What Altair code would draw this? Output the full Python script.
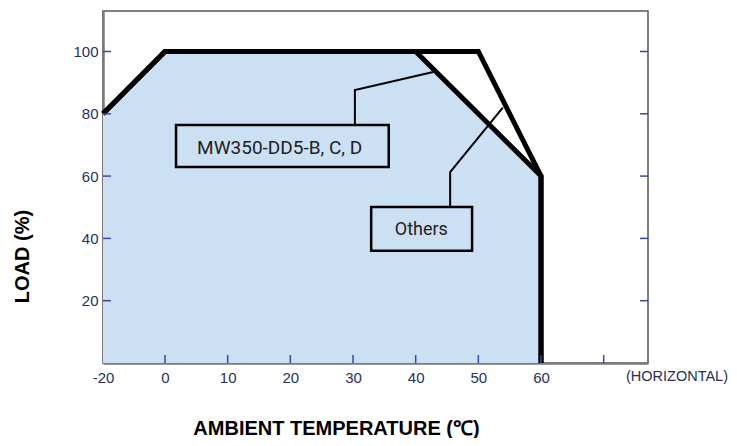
import altair as alt
import pandas as pd

# Derating curves (ambient temperature in degC, load in %)
mw_temp = [-20, 0, 40, 60, 60]
mw_load = [80, 100, 100, 60, 0]
oth_temp = [-20, 0, 50, 60, 60]
oth_load = [80, 100, 100, 60, 0]

# Axis ticks
x_tick_values = [-20, 0, 10, 20, 30, 40, 50, 60, 70]
x_inner_ticks = [0, 10, 20, 30, 40, 50, 60, 70]
y_tick_values = [20, 40, 60, 80, 100]

# Callout annotations (data units)
callout_names = ["MW350-DD5-B, C, D", "Others"]
box_x1 = [1.76, 32.9]
box_x2 = [35.7, 49.0]
box_y1 = [62.9, 36.0]
box_y2 = [76.4, 50.1]
label_x = [18.3, 40.9]
label_y = [69.0, 42.6]
leader_a_temp = [30.3, 30.3, 42.8]
leader_a_load = [76.4, 87.6, 93.4]
leader_b_temp = [45.5, 45.5, 53.9]
leader_b_load = [50.1, 61.3, 82.0]

W, H = 545, 352
TICK_COLOR = "#3a48a8"
LABEL_COLOR = "#27305a"

curves = pd.DataFrame({
    "temp": mw_temp + oth_temp,
    "load": mw_load + oth_load,
    "series": ["MW350"] * len(mw_temp) + ["Others"] * len(oth_temp),
    "idx": list(range(len(mw_temp))) + list(range(len(oth_temp))),
})
area_df = pd.DataFrame({"temp": mw_temp[:4], "load": mw_load[:4]})
leaders = pd.DataFrame({
    "temp": leader_a_temp + leader_b_temp,
    "load": leader_a_load + leader_b_load,
    "grp": ["a"] * 3 + ["b"] * 3,
    "idx": list(range(3)) * 2,
})
boxes = pd.DataFrame({"x1": box_x1, "x2": box_x2, "y1": box_y1, "y2": box_y2,
                      "lx": label_x, "ly": label_y, "name": callout_names})

xscale = alt.Scale(domain=[-20, 0, 77.07], range=[0, 62, W], nice=False, zero=False)
yscale = alt.Scale(domain=[0, 113], nice=False, zero=True)

TITLE_FONT = "Liberation Sans"

xaxis = alt.Axis(
    values=x_tick_values,
    labelExpr="datum.value == 70 ? '' : toString(datum.value)",
    labelFlush=False,
    ticks=False, grid=False,
    domainColor="#7a7a7a", domainWidth=2.5,
    labelFont="Liberation Sans", labelFontSize=15, labelColor=LABEL_COLOR,
    labelPadding=7,
    title="AMBIENT TEMPERATURE (℃)",
    titleFont=TITLE_FONT, titleFontSize=20, titleFontWeight="bold",
    titleColor="#000000", titleX=233, titleY=71, titleBaseline="alphabetic",
)
yaxis = alt.Axis(
    values=y_tick_values,
    labelFlush=False,
    ticks=False, grid=False,
    domainColor="#7a7a7a", domainWidth=2.5,
    labelFont="Liberation Sans", labelFontSize=15, labelColor=LABEL_COLOR,
    labelPadding=5,
    title="LOAD (%)",
    titleFont=TITLE_FONT, titleFontSize=20, titleFontWeight="bold",
    titleColor="#000000", titleX=-81, titleY=245, titleBaseline="middle",
    titleAngle=270,
)

area = alt.Chart(area_df).mark_area(color="#cce0f4", opacity=1).encode(
    x=alt.X("temp:Q", scale=xscale, axis=xaxis),
    y=alt.Y("load:Q", scale=yscale, axis=yaxis, stack=None),
)

lines = alt.Chart(curves).mark_line(color="black", strokeWidth=5, strokeJoin="miter").encode(
    x=alt.X("temp:Q", scale=xscale),
    y=alt.Y("load:Q", scale=yscale),
    detail="series:N",
    order="idx:Q",
)

xt = alt.Chart(pd.DataFrame({"v": x_inner_ticks})).mark_rule(color=TICK_COLOR, strokeWidth=1.5).encode(
    x=alt.X("v:Q", scale=xscale), y=alt.value(H), y2=alt.value(H - 8)
)
ytl = alt.Chart(pd.DataFrame({"v": y_tick_values})).mark_rule(color=TICK_COLOR, strokeWidth=1.5).encode(
    y=alt.Y("v:Q", scale=yscale), x=alt.value(0), x2=alt.value(8)
)
ytr = alt.Chart(pd.DataFrame({"v": y_tick_values})).mark_rule(color=TICK_COLOR, strokeWidth=1.5).encode(
    y=alt.Y("v:Q", scale=yscale), x=alt.value(W - 8), x2=alt.value(W)
)

leader_lines = alt.Chart(leaders).mark_line(color="black", strokeWidth=2).encode(
    x=alt.X("temp:Q", scale=xscale),
    y=alt.Y("load:Q", scale=yscale),
    detail="grp:N",
    order="idx:Q",
)

box_rects = alt.Chart(boxes).mark_rect(fillOpacity=0, stroke="black", strokeWidth=2.5).encode(
    x=alt.X("x1:Q", scale=xscale), x2="x2:Q",
    y=alt.Y("y1:Q", scale=yscale), y2="y2:Q",
)
box_text_a = alt.Chart(boxes.iloc[[0]]).mark_text(font="Roboto", fontSize=19, color="#222222").encode(
    x=alt.X("lx:Q", scale=xscale),
    y=alt.Y("ly:Q", scale=yscale),
    text="name:N",
)
box_text_b = alt.Chart(boxes.iloc[[1]]).mark_text(font="Roboto", fontSize=18, color="#222222").encode(
    x=alt.X("lx:Q", scale=xscale),
    y=alt.Y("ly:Q", scale=yscale),
    text="name:N",
)

horiz = alt.Chart(pd.DataFrame({"t": ["(HORIZONTAL)"]})).mark_text(
    font="Liberation Sans", fontSize=14.5, color=LABEL_COLOR, align="right", baseline="top"
).encode(x=alt.value(W + 80), y=alt.value(H + 7), text="t:N")

chart = alt.layer(
    area, lines, xt, ytl, ytr, leader_lines, box_rects, box_text_a, box_text_b, horiz
).properties(
    width=W, height=H,
    autosize=alt.AutoSizeParams(type="none"),
    padding={"left": 95, "top": 3, "right": 81, "bottom": 75},
).configure_view(stroke="#555555", strokeWidth=1.5)

chart.save("out.html", embed_options={"renderer": "svg", "actions": False})
